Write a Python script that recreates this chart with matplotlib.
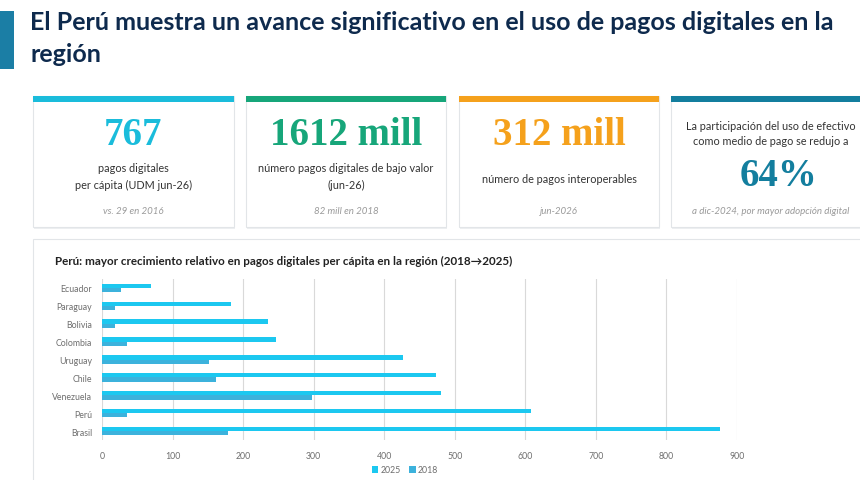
import matplotlib.pyplot as plt
from matplotlib.patches import Rectangle

countries = ["Ecuador", "Paraguay", "Bolivia", "Colombia", "Uruguay",
             "Chile", "Venezuela", "Perú", "Brasil"]
pagos_2025 = [69, 183, 235, 246, 427, 474, 481, 608, 876]
pagos_2018 = [27, 18, 18, 35, 151, 161, 298, 36, 178]
x_ticks = [0, 100, 200, 300, 400, 500, 600, 700, 800, 900]

kpi_values = ["767", "1612 mill", "312 mill", "64%"]
kpi_colors = ["#1ABCDB", "#17A67A", "#F5A11C", "#137E9E"]
kpi_notes = ["vs. 29 en 2016", "82 mill en 2018", "jun-2026",
             "a dic-2024, por mayor adopción digital"]

W, H = 860, 481
BODY = "Lato"
NUM = "Liberation Serif"

fig = plt.figure(figsize=(W / 100, H / 100), dpi=100)
fig.patch.set_facecolor("white")

# page-level canvas in pixel coordinates
bg = fig.add_axes([0, 0, 1, 1])
bg.set_xlim(0, W)
bg.set_ylim(H, 0)
bg.axis("off")

bg.add_patch(Rectangle((0, 12), 14, 58, color="#1B7EA5", lw=0))
bg.text(30, 23, "El Perú muestra un avance significativo en el uso de pagos digitales en la",
        fontsize=18, fontweight="bold", color="#0E2A4D", family=BODY, va="center")
bg.text(30, 54, "región", fontsize=18, fontweight="bold", color="#0E2A4D",
        family=BODY, va="center")

cards_x = [(33, 234), (246, 446), (459, 659), (671, 866)]
for (x0, x1), col in zip(cards_x, kpi_colors):
    bg.add_patch(Rectangle((x0 + 1, 99), x1 - x0, 131, facecolor="#EDEFF1", lw=0))
    bg.add_patch(Rectangle((x0, 97), x1 - x0, 131, facecolor="white",
                           edgecolor="#E2E5E8", lw=0.8))
    bg.add_patch(Rectangle((x0, 97), x1 - x0, 6, color=col, lw=0))

def centre(i):
    x0, x1 = cards_x[i]
    return (x0 + min(x1, 860)) / 2 + (0 if i < 3 else 5)

for i in range(3):
    bg.text(centre(i), 136, kpi_values[i], fontsize=28, fontweight="bold",
            color=kpi_colors[i], family=NUM, ha="center", va="center")
bg.text(centre(3) + 8, 177, kpi_values[3], fontsize=28, fontweight="bold",
        color=kpi_colors[3], family=NUM, ha="center", va="center")

sub = dict(fontsize=7.8, color="#333333", family=BODY, ha="center", va="center")
bg.text(centre(0), 169, "pagos digitales", **sub)
bg.text(centre(0), 185, "per cápita (UDM jun-26)", **sub)
bg.text(centre(1), 169, "número pagos digitales de bajo valor", **sub)
bg.text(centre(1), 185, "(jun-26)", **sub)
bg.text(centre(2), 180, "número de pagos interoperables", **sub)
bg.text(centre(3), 127, "La participación del uso de efectivo", **sub)
bg.text(centre(3), 142, "como medio de pago se redujo a", **sub)
for i, note in enumerate(kpi_notes):
    bg.text(centre(i), 212, note, fontsize=7, style="italic", color="#9A9A9A",
            family=BODY, ha="center", va="center")

# chart panel
bg.add_patch(Rectangle((33, 240), 840, 250, facecolor="white",
                       edgecolor="#E2E5E8", lw=0.8))
bg.text(55, 261, "Perú: mayor crecimiento relativo en pagos digitales per cápita en la región (2018→2025)",
        fontsize=8.4, fontweight="bold", color="#222222",
        family=[BODY, "DejaVu Sans"], va="center")

ax = fig.add_axes([102 / W, 1 - 441 / H, (737 - 102) / W, (441 - 280) / H])
ypos = list(range(len(countries)))
bh = 0.24
ax.barh([y - bh / 2 for y in ypos], pagos_2025, height=bh, color="#1CC8F0",
        label="2025", zorder=3)
ax.barh([y + bh / 2 for y in ypos], pagos_2018, height=bh, color="#3CB2DC",
        label="2018", zorder=3)
ax.set_xlim(0, 900)
ax.set_ylim(len(countries) - 0.5, -0.5)
ax.set_xticks(x_ticks)
ax.set_yticks(ypos)
ax.set_yticklabels(countries)
ax.grid(axis="x", color="#D9D9D9", lw=0.8, zorder=0)
for s in ax.spines.values():
    s.set_visible(False)
ax.tick_params(length=0, labelsize=6.3, colors="#6E6E6E", pad=8)
ax.tick_params(axis="y", pad=7)
for lab in ax.get_xticklabels() + ax.get_yticklabels():
    lab.set_family(BODY)

leg = fig.legend(loc="center", bbox_to_anchor=(405 / W, 1 - 471 / H), ncol=2,
                 frameon=False, handlelength=0.7, handleheight=0.7,
                 columnspacing=1.0, handletextpad=0.3, prop={"family": BODY, "size": 6.3})
for t in leg.get_texts():
    t.set_color("#6E6E6E")

fig.savefig("out.png", dpi=100)
